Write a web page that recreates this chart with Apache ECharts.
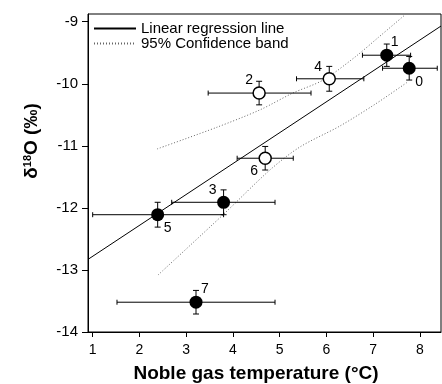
<!DOCTYPE html>
<html><head><meta charset="utf-8">
<script src="https://cdn.jsdelivr.net/npm/echarts@6/dist/echarts.min.js"></script>
<style>html,body{margin:0;padding:0;background:#fff}#c{width:442px;height:384px}</style>
</head><body><div id="c"></div>
<script>
// ---- data ----
const sampleIds = ['0', '1', '2', '3', '4', '5', '6', '7'];
const temperature = [7.77, 7.29, 4.56, 3.80, 6.06, 2.39, 4.69, 3.21];
const tempLow = [7.20, 6.77, 3.47, 2.69, 5.36, 1.00, 4.09, 1.52];
const tempHigh = [8.37, 7.80, 5.67, 4.90, 6.80, 3.80, 5.29, 4.90];
const d18O = [-9.75, -9.54, -10.15, -11.91, -9.92, -12.11, -11.20, -13.52];
const d18OErr = [0.19, 0.18, 0.19, 0.20, 0.20, 0.20, 0.19, 0.19];
const filledMarker = [true, true, false, true, false, true, false, true];

const regressionX = [0.9, 8.45];
const regressionY = [-12.83, -9.07];
const upperBandX = [2.38, 3.66, 4.58, 5.28, 5.93, 6.61, 7.10, 7.68];
const upperBandY = [-11.05, -10.70, -10.42, -10.15, -9.94, -9.57, -9.26, -8.89];
const lowerBandX = [2.40, 3.79, 4.79, 5.43, 6.29, 7.04, 7.74];
const lowerBandY = [-13.08, -12.11, -11.39, -11.02, -10.68, -10.33, -9.97];

const xTickValues = [1, 2, 3, 4, 5, 6, 7, 8];
const yTickValues = [-14, -13, -12, -11, -10, -9];

// ---- styling ----
const FONT = '"Liberation Sans", Arial, Helvetica, sans-serif';
const labelOffset = {'0': [10, 14], '1': [8, -13], '2': [-10, -13], '3': [-11, -12],
                     '4': [-11, -12], '5': [10, 13], '6': [-11, 13], '7': [9, -13]};

const pts = temperature.map((t, i) => [t, d18O[i], tempLow[i], tempHigh[i], d18OErr[i]]);
const zip = (xs, ys) => xs.map((x, i) => [x, ys[i]]);

const chart = echarts.init(document.getElementById('c'), null, {renderer: 'canvas'});
chart.setOption({
  backgroundColor: '#fff',
  animation: false,
  grid: {left: 88, right: 1, top: 14, bottom: 52, show: true, borderColor: '#000', borderWidth: 1},
  legend: {
    orient: 'vertical', left: 93, top: 21, itemGap: 0, padding: 0,
    itemWidth: 42, itemHeight: 13,
    data: ['Linear regression line', '95% Confidence band'],
    itemStyle: {opacity: 0},
    textStyle: {fontSize: 15, fontFamily: FONT, color: '#000', lineHeight: 13},
    selectedMode: false
  },
  xAxis: {
    type: 'value', min: 0.9, max: 8.45,
    splitLine: {show: false},
    axisLine: {lineStyle: {color: '#000', width: 1}},
    axisTick: {show: true, length: 5, lineStyle: {color: '#000'}, customValues: xTickValues},
    axisLabel: {margin: 11, fontSize: 14, fontFamily: FONT, color: '#000', customValues: xTickValues}
  },
  yAxis: {
    type: 'value', min: -14, max: -8.876,
    splitLine: {show: false},
    axisLine: {lineStyle: {color: '#000', width: 1}},
    axisTick: {show: true, length: 6, lineStyle: {color: '#000'}, customValues: yTickValues},
    axisLabel: {margin: 10, fontSize: 15, fontFamily: FONT, color: '#000', customValues: yTickValues}
  },
  graphic: [
    {type: 'text', x: 256, y: 374, style: {text: 'Noble gas temperature (°C)', font: 'bold 19px ' + FONT, fill: '#000', align: 'center', verticalAlign: 'middle'}},
    {type: 'text', x: 32, y: 141, rotation: Math.PI / 2,
     style: {text: '{a|δ}{b|18}{a|O (‰)}', align: 'center', verticalAlign: 'middle', fill: '#000',
       rich: {a: {fontSize: 19, fontWeight: 'bold', fontFamily: FONT, fill: '#000', lineHeight: 20},
              b: {fontSize: 11, fontWeight: 'bold', fontFamily: FONT, fill: '#000', verticalAlign: 'top', lineHeight: 11}}}}
  ],
  series: [
    {name: 'Linear regression line', type: 'line', symbol: 'none', data: zip(regressionX, regressionY),
     lineStyle: {color: '#000', width: 1}, itemStyle: {color: '#000'}, z: 3},
    {name: '95% Confidence band', type: 'line', symbol: 'none', smooth: 0.3, data: zip(upperBandX, upperBandY),
     lineStyle: {color: '#666', width: 1, type: [1, 2]}, itemStyle: {color: '#666'}, z: 2},
    {name: '95% Confidence band', type: 'line', symbol: 'none', smooth: 0.3, data: zip(lowerBandX, lowerBandY),
     lineStyle: {color: '#666', width: 1, type: [1, 2]}, itemStyle: {color: '#666'}, z: 2},
    {name: 'samples', type: 'custom', z: 5, data: pts,
     renderItem: function (params, api) {
       const i = params.dataIndex;
       const x = api.value(0), y = api.value(1), xl = api.value(2), xh = api.value(3), e = api.value(4);
       const c = api.coord([x, y]);
       const l = api.coord([xl, y]);
       const r = api.coord([xh, y]);
       const t = api.coord([x, y + e]);
       const b = api.coord([x, y - e]);
       const st = {stroke: '#000', lineWidth: 1};
       const ln = (x1, y1, x2, y2) => ({type: 'line', shape: {x1, y1, x2, y2}, style: st});
       const id = sampleIds[i];
       const off = labelOffset[id];
       return {type: 'group', children: [
         ln(l[0], c[1], r[0], c[1]),
         ln(l[0], c[1] - 2.5, l[0], c[1] + 2.5),
         ln(r[0], c[1] - 2.5, r[0], c[1] + 2.5),
         ln(c[0], t[1], c[0], b[1]),
         ln(c[0] - 3, t[1], c[0] + 3, t[1]),
         ln(c[0] - 3, b[1], c[0] + 3, b[1]),
         filledMarker[i]
           ? {type: 'circle', shape: {cx: c[0], cy: c[1], r: 6.5}, style: {fill: '#000'}}
           : {type: 'circle', shape: {cx: c[0], cy: c[1], r: 6}, style: {fill: '#fff', stroke: '#000', lineWidth: 1.5}},
         {type: 'text', x: c[0] + off[0], y: c[1] + off[1],
          style: {text: id, fontSize: 14, fontFamily: FONT, fill: '#000', align: 'center', verticalAlign: 'middle'}}
       ]};
     }}
  ]
});
</script></body></html>
